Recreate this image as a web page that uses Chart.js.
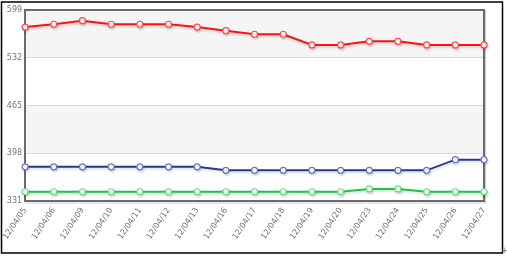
<!DOCTYPE html>
<html>
<head>
<meta charset="utf-8">
<script src="https://cdn.jsdelivr.net/npm/chart.js@4"></script>
<style>
  html, body { margin: 0; padding: 0; background: #fff; }
  #wrap { width: 507px; height: 257px; position: relative; }
</style>
</head>
<body>
<div id="wrap"><canvas id="chart" width="507" height="257"></canvas></div>
<script>
const dates = ["12/04/05", "12/04/06", "12/04/09", "12/04/10", "12/04/11", "12/04/12", "12/04/13", "12/04/16",
  "12/04/17", "12/04/18", "12/04/19", "12/04/20", "12/04/23", "12/04/24", "12/04/25", "12/04/26", "12/04/27"];
const redSeries = [575, 579, 584, 579, 579, 579, 575, 570, 565, 565, 550, 550, 555, 555, 550, 550, 550];
const blueSeries = [379, 379, 379, 379, 379, 379, 379, 374, 374, 374, 374, 374, 374, 374, 374, 389, 389];
const greenSeries = [344, 344, 344, 344, 344, 344, 344, 344, 344, 344, 344, 344, 348, 348, 344, 344, 344];
const yTicks = [331, 398, 465, 532, 599];

// alternating bands, plot frame, outer border
const decor = {
  id: "decor",
  beforeDraw(chart) {
    const { ctx, chartArea: a, scales: { y } } = chart;
    ctx.save();
    ctx.fillStyle = "#f5f5f5";
    for (let i = 0; i < yTicks.length - 1; i++) {
      if ((yTicks.length - 2 - i) % 2 !== 0) continue;
      const top = y.getPixelForValue(yTicks[i + 1]);
      const bot = y.getPixelForValue(yTicks[i]);
      ctx.fillRect(a.left, top, a.right - a.left, bot - top);
    }
    ctx.restore();
  },
  beforeDatasetsDraw(chart) {
    const { ctx, chartArea: a } = chart;
    ctx.save();
    ctx.strokeStyle = "#6b6b6b";
    ctx.lineWidth = 2;
    ctx.beginPath();
    ctx.moveTo(a.left, a.top);
    ctx.lineTo(a.right, a.top);
    ctx.lineTo(a.right, a.bottom);
    ctx.stroke();
    ctx.strokeStyle = "#cfcfcf";
    ctx.lineWidth = 1;
    ctx.beginPath();
    ctx.moveTo(a.right + 1.5, a.top);
    ctx.lineTo(a.right + 1.5, a.bottom + 2);
    ctx.lineTo(a.left, a.bottom + 2);
    ctx.stroke();
    ctx.restore();
    ctx.save();
    ctx.shadowColor = "rgba(0,0,0,0.13)";
    ctx.shadowOffsetY = 2;
    ctx.shadowOffsetX = 1;
    ctx.shadowBlur = 2;
  },
  afterDatasetsDraw(chart) {
    chart.ctx.restore();
  },
  afterDraw(chart) {
    const ctx = chart.ctx;
    ctx.save();
    ctx.strokeStyle = "#000";
    ctx.lineWidth = 1.5;
    ctx.strokeRect(1.5, 2, 501, 251);
    ctx.fillStyle = "#777";
    ctx.font = "9px 'DejaVu Sans'";
    ctx.fillText("+", 501, 253);
    ctx.restore();
  }
};

function makeSet(data, line, dot) {
  return {
    data: data,
    borderColor: line,
    borderWidth: 2,
    pointBackgroundColor: "#fff",
    pointBorderColor: dot,
    pointBorderWidth: 1.2,
    pointRadius: 3,
    tension: 0,
    clip: false
  };
}

new Chart(document.getElementById("chart"), {
  type: "line",
  data: {
    labels: dates,
    datasets: [
      makeSet(redSeries, "#ff1010", "#ff4a4a"),
      makeSet(blueSeries, "#2a3590", "#6a74c8"),
      makeSet(greenSeries, "#16c447", "#5fe07f")
    ]
  },
  options: {
    responsive: false,
    animation: false,
    layout: { padding: { top: 10, right: 23, left: 0, bottom: 0 } },
    plugins: { legend: { display: false }, tooltip: { enabled: false } },
    scales: {
      x: {
        offset: false,
        grid: { display: false, drawTicks: false },
        border: { display: true, color: "#6b6b6b", width: 2 },
        afterFit(scale) { scale.height = 56; },
        ticks: {
          color: "#777",
          font: { family: "DejaVu Sans", size: 8 },
          minRotation: 56,
          maxRotation: 56,
          autoSkip: false,
          padding: 5
        }
      },
      y: {
        min: 331,
        max: 599,
        afterFit(scale) { scale.width = 23; },
        afterBuildTicks(scale) { scale.ticks = yTicks.map(v => ({ value: v })); },
        grid: { color: "#d9d9d9", drawTicks: false },
        border: { display: true, color: "#6b6b6b", width: 2 },
        ticks: {
          color: "#777",
          font: { family: "DejaVu Sans", size: 8 },
          padding: 3
        }
      }
    }
  },
  plugins: [decor]
});
</script>
</body>
</html>
